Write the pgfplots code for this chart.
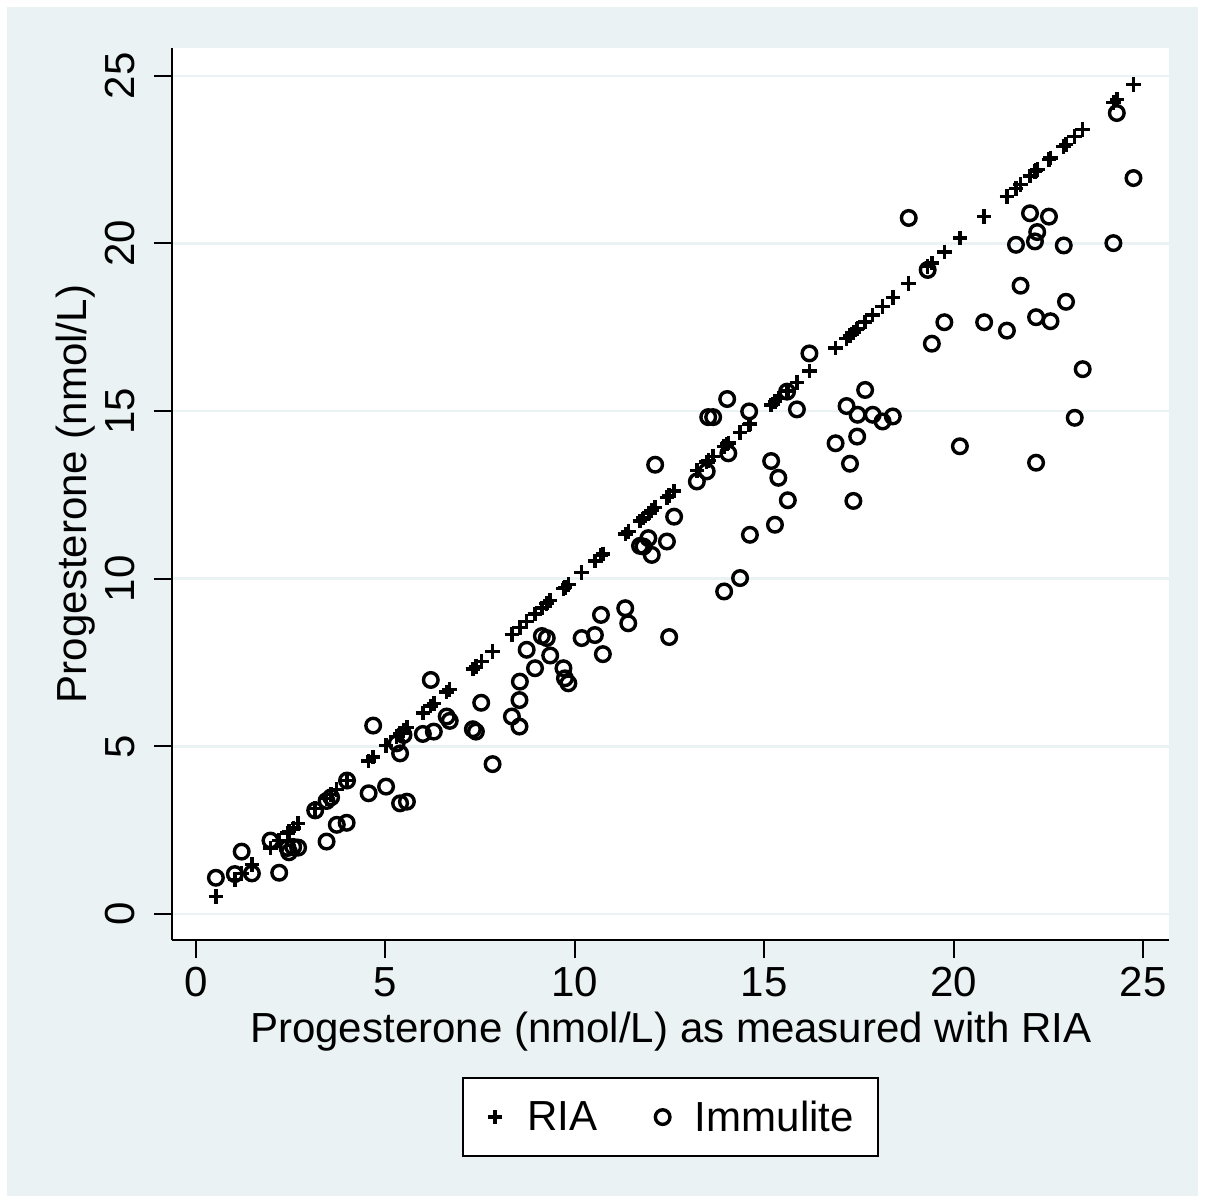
\documentclass[border=0pt]{standalone}
\usepackage{fontspec}
\setmainfont{Liberation Sans}
\usepackage{pgfplots}
\usepackage{pgfplotstable}
\pgfplotsset{compat=1.18}
\definecolor{bg}{RGB}{234,242,243}
\newcommand\bigf{\fontsize{42.2}{50.6}\selectfont}
\pgfplotstableread{
x imm
0.53 1.08
1.03 1.19
1.21 1.86
1.48 1.21
2.20 1.23
1.97 2.19
2.42 1.97
2.57 2.00
2.70 1.98
2.46 1.84
3.45 2.16
3.72 2.66
3.98 2.72
3.15 3.09
3.45 3.37
3.57 3.48
3.99 3.98
4.56 3.60
5.02 3.80
5.39 3.30
5.57 3.35
4.68 5.62
5.39 4.79
5.30 5.09
5.48 5.34
5.99 5.37
6.28 5.44
6.62 5.89
6.70 5.76
6.20 6.98
7.31 5.51
7.39 5.44
7.53 6.30
7.83 4.47
8.34 5.89
8.54 5.59
8.54 6.38
8.55 6.93
8.73 7.88
8.95 7.33
9.13 8.29
9.26 8.23
9.35 7.71
9.70 7.33
9.74 7.03
9.83 6.88
10.18 8.23
10.53 8.32
10.69 8.92
10.74 7.75
11.33 9.12
11.41 8.67
12.49 8.26
11.81 10.96
11.94 11.21
12.03 10.71
11.72 10.98
12.43 11.11
12.62 11.85
12.12 13.40
13.22 12.90
13.48 13.20
14.05 13.74
13.52 14.82
13.65 14.82
14.02 15.36
14.60 14.99
15.18 13.51
15.37 13.01
15.62 12.34
15.28 11.61
14.62 11.31
14.36 10.02
13.94 9.62
15.60 15.58
15.86 15.05
16.19 16.72
16.88 14.04
17.26 13.43
17.35 12.32
17.17 15.15
17.46 14.89
17.45 14.24
17.66 15.63
17.86 14.89
18.12 14.69
18.39 14.84
18.81 20.76
19.31 19.21
19.42 17.01
19.75 17.65
20.80 17.65
21.40 17.40
20.16 13.95
21.64 19.96
21.76 18.74
22.01 20.90
22.51 20.80
22.20 20.34
22.14 20.06
22.90 19.94
24.21 20.01
22.96 18.26
22.17 17.80
22.55 17.68
23.40 16.25
23.19 14.80
22.17 13.46
24.30 23.89
24.74 21.95
}\datatable
\begin{document}
\begin{tikzpicture}
\fill[white] (0bp,0bp) rectangle (1205bp,1203bp);
\fill[bg] (7bp,7bp) rectangle (1198bp,1196bp);
\begin{axis}[
  at={(172bp,263bp)}, anchor=south west,
  width=997.5bp, height=892bp, scale only axis,
  xmin=-0.628, xmax=25.69, ymin=-0.776, ymax=25.83,
  axis background/.style={fill=white},
  axis lines*=left,
  axis line style={line width=2bp, black},
  xtick={0,5,...,25}, ytick={0,5,...,25},
  tick align=outside, major tick length=18bp,
  tick style={line width=2bp, black},
  ymajorgrids=true,
  major grid style={line width=2.5bp, bg},
  /pgf/number format/assume math mode=true,
  tick label style={font=\bigf},
  xticklabel style={anchor=north, inner sep=0pt},
  yticklabel style={rotate=90, anchor=south, inner sep=0pt},
  xticklabel shift=9bp,
  yticklabel shift=19bp,
  label style={font=\bigf, inner sep=0pt},
  xlabel={Progesterone (nmol/L) as measured with RIA},
  ylabel={Progesterone (nmol/L)},
  xlabel style={at={(axis description cs:0.5,-0.11435)}, anchor=base},
  ylabel style={at={(axis description cs:-0.0862,0.5)}, anchor=base},
  legend columns=2,
  legend image code/.code={\draw[mark repeat=2,mark phase=2,#1] plot coordinates {(-7bp,0bp)(0bp,0bp)(7bp,0bp)};},
  legend style={at={(0.5,-0.15359)}, anchor=north, draw=black, line width=2.2bp, fill=white,
    font=\bigf, inner xsep=24.5bp, inner ysep=23bp, nodes={inner sep=0pt},
    /tikz/every odd column/.append style={column sep=25bp},
    /tikz/every even column/.append style={column sep=58bp}},
]
\addplot[only marks, mark=+, mark size=7.3bp, mark options={line width=3.4bp, black}] table[x=x, y=x] {\datatable};
\addlegendentry{RIA}
\addplot[only marks, mark=o, mark size=7.3bp, mark options={line width=3.4bp, black}] table[x=x, y=imm] {\datatable};
\addlegendentry{Immulite}
\end{axis}
\end{tikzpicture}
\end{document}
